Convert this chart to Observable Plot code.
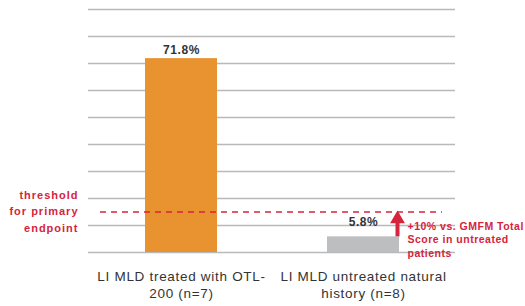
<!DOCTYPE html>
<html>
<head>
<meta charset="utf-8">
<script src="https://cdn.jsdelivr.net/npm/d3@7"></script>
<script src="https://cdn.jsdelivr.net/npm/@observablehq/plot@0.6"></script>
<style>
  html, body { margin: 0; padding: 0; background: #fff; }
  #chart { width: 525px; height: 306px; overflow: hidden; }
  #chart svg { overflow: visible; }
  .tick-lbl text { letter-spacing: 0.7px; }
  .val-lbl text { letter-spacing: 0.6px; }
  .delta-lbl text { letter-spacing: 0.5px; }
  .thr-lbl text { letter-spacing: 1px; }
</style>
</head>
<body>
<div id="chart"></div>
<script>
const categories = ["LI MLD treated with OTL-200 (n=7)", "LI MLD untreated natural history (n=8)"];
const tickLabels = ["LI MLD treated with OTL-\n200 (n=7)", "LI MLD untreated natural\nhistory (n=8)"];
const values = [71.8, 5.8];
const valueLabels = ["71.8%", "5.8%"];
const barColors = ["#e8932f", "#bdbec0"];
const gridTicks = [0, 10, 20, 30, 40, 50, 60, 70, 80, 90];
const threshold = 15;
const thresholdLabel = "threshold\nfor primary\nendpoint";
const deltaLabel = "+10% vs. GMFM Total\nScore in untreated\npatients";

const data = categories.map((c, i) => ({cat: c, value: values[i], label: valueLabels[i], tick: tickLabels[i], color: barColors[i]}));
const red = "#d5243c";

const chart = Plot.plot({
  width: 525,
  height: 306,
  marginLeft: 88,
  marginRight: 70,
  marginTop: 9,
  marginBottom: 54,
  style: {fontFamily: "'Liberation Sans', Arial, sans-serif", background: "#fff", overflow: "visible"},
  x: {domain: categories, paddingInner: 0.6055, paddingOuter: 0.308, axis: null},
  y: {domain: [0, 90], axis: null},
  marks: [
    Plot.ruleY(gridTicks, {stroke: "#b9b9b9", strokeWidth: 1.5}),
    Plot.barY(data, {x: "cat", y: "value", fill: "color"}),
    Plot.ruleY([threshold], {stroke: red, strokeWidth: 1.5, strokeDasharray: "6,5", insetLeft: 12, insetRight: 13}),
    Plot.ruleX([data[1]], {x: "cat", y1: "value", y2: threshold - 3, stroke: red, strokeWidth: 4, dx: 34}),
    Plot.dot([data[1]], {x: "cat", y: threshold, symbol: "triangle", r: 5.5, fill: red, stroke: null, dx: 34, dy: 7}),
    Plot.text([data[0]], {x: "cat", y: "value", text: "label", fontWeight: "bold", fontSize: 12, fill: "#333", lineAnchor: "bottom", dy: -5, className: "val-lbl"}),
    Plot.text([data[1]], {x: "cat", y: "value", text: "label", fontWeight: "bold", fontSize: 12, fill: "#333", lineAnchor: "bottom", dy: -11, className: "val-lbl"}),
    Plot.text([deltaLabel], {x: () => categories[1], y: () => values[1], text: d => d, textAnchor: "start", fontSize: 10.5, fontWeight: "bold", fill: red, dx: 44, dy: -17, lineAnchor: "top", lineHeight: 1.3, className: "delta-lbl"}),
    Plot.text([thresholdLabel], {y: () => threshold, frameAnchor: "left", text: d => d, textAnchor: "end", fontSize: 11, fontWeight: "bold", fill: red, dx: -10, dy: -2, lineAnchor: "middle", lineHeight: 1.5, className: "thr-lbl"}),
    Plot.text(data, {x: "cat", y: () => 0, text: "tick", fontSize: 13.5, fill: "#333", lineAnchor: "top", dy: 17, lineHeight: 1.22, className: "tick-lbl"})
  ]
});
document.getElementById("chart").appendChild(chart);
</script>
</body>
</html>
